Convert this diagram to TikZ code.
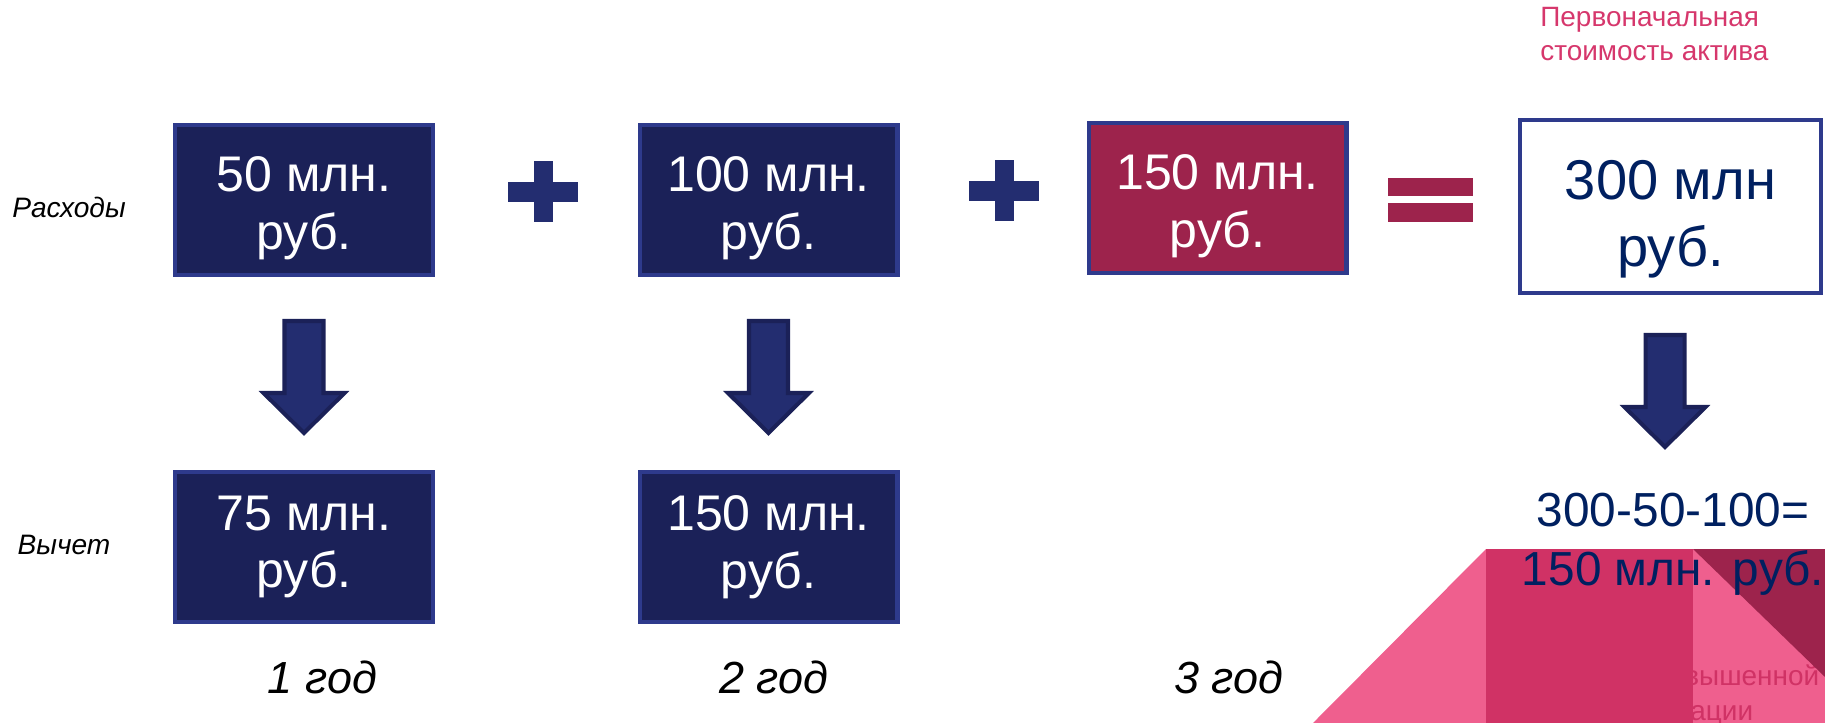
\documentclass[tikz,border=0pt]{standalone}
\usepackage{fontspec}
\setmainfont{Liberation Sans}
\usepackage{tikz}
\usetikzlibrary{positioning}
\usetikzlibrary{calc}
\definecolor{boxnavy}{RGB}{27,33,88}
\definecolor{boxedge}{RGB}{46,58,140}
\definecolor{arrownavy}{RGB}{35,45,112}
\definecolor{crimson}{RGB}{157,35,76}
\definecolor{inknavy}{RGB}{0,32,96}
\definecolor{pinktext}{RGB}{214,55,108}
\definecolor{lightpink}{RGB}{239,95,142}
\definecolor{midpink}{RGB}{208,50,101}
% top row text sits a little lower in its box
\newcommand{\lift}{\rule{0pt}{29.6pt}}
\tikzset{
sumbox/.style={
  rectangle,
  draw=boxedge,
  line width=2.3pt,
  fill=boxnavy,
  text=white,
  minimum width=5.16cm,
  minimum height=3cm,
  inner sep=0pt,
  align=center,
  font=\fontsize{28.5}{33}\selectfont
},
lastbox/.style={sumbox,fill=crimson},
totalbox/.style={sumbox,fill=white,minimum width=6.02cm,minimum height=3.46cm},
totaltext/.style={text=inknavy,align=center,inner sep=0pt,font=\fontsize{31.9}{38.1}\selectfont},
resulttext/.style={text=inknavy,align=center,inner sep=0pt,font=\fontsize{27.2}{33.6}\selectfont},
rowlabel/.style={font=\fontsize{16}{19}\selectfont\itshape},
yearlabel/.style={anchor=base,font=\fontsize{25.6}{30}\selectfont\itshape},
notetext/.style={text=pinktext,align=left,inner sep=0pt,font=\fontsize{15.9}{19.4}\selectfont},
hiddentext/.style={text=midpink,anchor=base west,inner sep=0pt,font=\fontsize{15.9}{19.4}\selectfont},
arrowbody/.style={fill=arrownavy,draw=boxnavy,line width=2.3pt,line join=miter},
pics/downarrow/.style={code={
  \draw[arrowbody] (-19.5,-56) -- (19.5,-56) -- (19.5,16) -- (40.5,16)
    -- (0,56) -- (-40.5,16) -- (-19.5,16) -- cycle;
}},
pics/plussign/.style={code={
  \fill[arrownavy] (-35,-10) rectangle (35,10);
  \fill[arrownavy] (-9.5,-31) rectangle (9.5,30);
}},
}

\begin{document}
\begin{tikzpicture}[x=0.02cm,y=-0.02cm]
\useasboundingbox (0,0) rectangle (1825,723);
% the corner shapes
\fill[lightpink] (1313,723) -- (1486,549) -- (1825,549) -- (1825,723) -- cycle;
\node[hiddentext] (hid1) at (1684,685) {вышенной};
\node[hiddentext] (hid2) at (1690,720) {ации};
\fill[midpink] (1486,549) rectangle (1693,723);
\fill[crimson] (1693,549) -- (1825,549) -- (1825,677) -- cycle;

% the expense row
\node[sumbox] (r1) at (304,200) {\lift 50 млн.\\руб.};
\node[sumbox] (r2) at (768.5,200) {\lift 100 млн.\\руб.};
\node[lastbox] (r3) at (1217.5,198) {\lift 150 млн.\\руб.};
\node[totalbox] (r4) at (1670.5,206.5) {};
\node[totaltext] (r4txt) at ([yshift=-7.4pt]r4.center) {300 млн\\руб.};

% the deduction row
\node[sumbox,below=3.86cm of r1] (v1) {75 млн.\\руб.};
\node[sumbox,below=3.86cm of r2] (v2) {150 млн.\\руб.};

% the signs
\foreach \x/\y in {543/192,1004/191}
  \pic at (\x,\y) {plussign};
\fill[crimson] (1388,178) rectangle (1473,196);
\fill[crimson] (1388,203) rectangle (1473,222);

% the arrows
\foreach \a/\b in {r1/v1,r2/v2}
  \pic at ($(\a.south)!0.5!(\b.north)+(0,3.5)$) {downarrow};
\pic at (1665,391) {downarrow};

% the labels
\node[rowlabel] (cost) at (69,207) {Расходы};
\node[rowlabel] (deduct) at (64,545) {Вычет};
\node[yearlabel] (y1) at (322.5,693) {1 год};
\node[yearlabel] (y2) at (774,693) {2 год};
\node[yearlabel] (y3) at (1229,693) {3 год};
\node[notetext,anchor=north west] (note) at (1540,7) {Первоначальная\\стоимость актива};
\node[resulttext] (res) at (1673,544) {300-50-100=\\150 млн. руб.};
\end{tikzpicture}
\end{document}
